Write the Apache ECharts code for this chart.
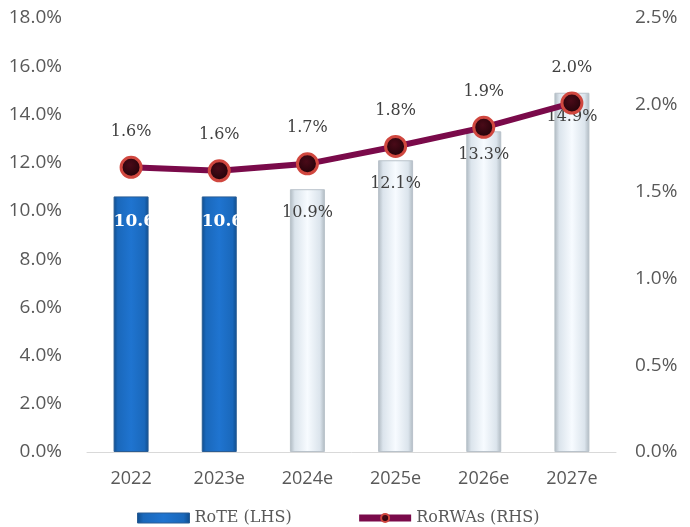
<!DOCTYPE html>
<html>
<head>
<meta charset="utf-8">
<script src="https://cdn.jsdelivr.net/npm/echarts@6/dist/echarts.min.js"></script>
<style>
html,body{margin:0;padding:0;background:#fff;}
#chart{width:690px;height:527px;}
</style>
</head>
<body>
<div id="chart"></div>
<script>
// Return on tangible equity (left axis) and return on RWAs (right axis)
const years = ['2022', '2023e', '2024e', '2025e', '2026e', '2027e'];
const rote = [10.6, 10.6, 10.9, 12.1, 13.3, 14.9];
const rorwas = [1.64, 1.62, 1.66, 1.76, 1.87, 2.01];
const actualCount = 2; // first two years are reported, the rest are estimates

const leftTicks = { min: 0, max: 18, interval: 2 };
const rightTicks = { min: 0, max: 2.5, interval: 0.5 };

const sansFont = '"Open Sans", sans-serif';
const serifFont = '"DejaVu Serif", serif';

const blueFill = {
  type: 'linear', x: 0, y: 0, x2: 1, y2: 0,
  colorStops: [
    { offset: 0, color: '#0f4c8c' },
    { offset: 0.12, color: '#1a68bb' },
    { offset: 0.5, color: '#1f74d0' },
    { offset: 0.88, color: '#1a68bb' },
    { offset: 1, color: '#0f4c8c' }
  ]
};
const paleFill = {
  type: 'linear', x: 0, y: 0, x2: 1, y2: 0,
  colorStops: [
    { offset: 0, color: '#aeb8c0' },
    { offset: 0.14, color: '#dbe4ec' },
    { offset: 0.5, color: '#f7fbff' },
    { offset: 0.86, color: '#dbe4ec' },
    { offset: 1, color: '#aeb8c0' }
  ]
};

const barData = rote.map((v, i) => {
  const actual = i < actualCount;
  return {
    value: v,
    itemStyle: {
      color: actual ? blueFill : paleFill,
      borderColor: actual ? '#2a5d94' : '#b9c2ca',
      borderWidth: 1
    },
    // white labels start at the bar's left edge; the part past the bar fades into the white background
    label: actual
      ? { color: '#ffffff', fontWeight: 'bold', fontSize: 17, position: [0, 17], align: 'left', verticalAlign: 'top' }
      : { color: '#404040' }
  };
});

const chart = echarts.init(document.getElementById('chart'));
chart.setOption({
  animation: false,
  backgroundColor: '#ffffff',
  grid: { left: 87, right: 74, top: 18, bottom: 75, containLabel: false },
  legend: {
    left: 132,
    top: 505,
    itemGap: 64,
    itemWidth: 52,
    itemHeight: 10,
    textStyle: { fontFamily: serifFont, fontSize: 16, color: '#595959' },
    data: [
      { name: 'RoTE (LHS)', icon: 'rect', itemStyle: { color: blueFill, borderColor: '#2a5d94', borderWidth: 1 } },
      { name: 'RoRWAs (RHS)', lineStyle: { width: 7, color: '#7a0a4a' } }
    ]
  },
  xAxis: {
    type: 'category',
    data: years,
    axisLine: { lineStyle: { color: '#d9d9d9', width: 1 } },
    axisTick: { show: false },
    axisLabel: { fontFamily: sansFont, fontSize: 18, color: '#595959', margin: 18 }
  },
  yAxis: [
    {
      type: 'value',
      min: leftTicks.min, max: leftTicks.max, interval: leftTicks.interval,
      splitLine: { show: false },
      axisLine: { show: false },
      axisTick: { show: false },
      axisLabel: {
        fontFamily: sansFont, fontSize: 19, color: '#595959', margin: 25,
        formatter: v => v.toFixed(1) + '%'
      }
    },
    {
      type: 'value',
      min: rightTicks.min, max: rightTicks.max, interval: rightTicks.interval,
      splitLine: { show: false },
      axisLine: { show: false },
      axisTick: { show: false },
      axisLabel: {
        fontFamily: sansFont, fontSize: 19, color: '#595959', margin: 19,
        formatter: v => v.toFixed(1) + '%'
      }
    }
  ],
  series: [
    {
      name: 'RoTE (LHS)',
      type: 'bar',
      yAxisIndex: 0,
      barWidth: 35,
      data: barData,
      label: {
        show: true,
        position: 'insideTop',
        distance: 16,
        fontFamily: serifFont,
        fontSize: 16,
        formatter: p => p.value.toFixed(1) + '%'
      },
      z: 2
    },
    {
      name: 'RoRWAs (RHS)',
      type: 'line',
      yAxisIndex: 1,
      data: rorwas,
      symbol: 'circle',
      symbolSize: 20,
      lineStyle: { color: '#7a0a4a', width: 6 },
      itemStyle: {
        color: {
          type: 'radial', x: 0.45, y: 0.4, r: 0.6,
          colorStops: [
            { offset: 0, color: '#4a0a18' },
            { offset: 1, color: '#1e0208' }
          ]
        },
        borderColor: '#d0473f',
        borderWidth: 3
      },
      label: {
        show: true,
        position: 'top',
        distance: 16,
        fontFamily: serifFont,
        fontSize: 16,
        color: '#404040',
        formatter: p => p.value.toFixed(1) + '%'
      },
      z: 5
    }
  ]
});
</script>
</body>
</html>
